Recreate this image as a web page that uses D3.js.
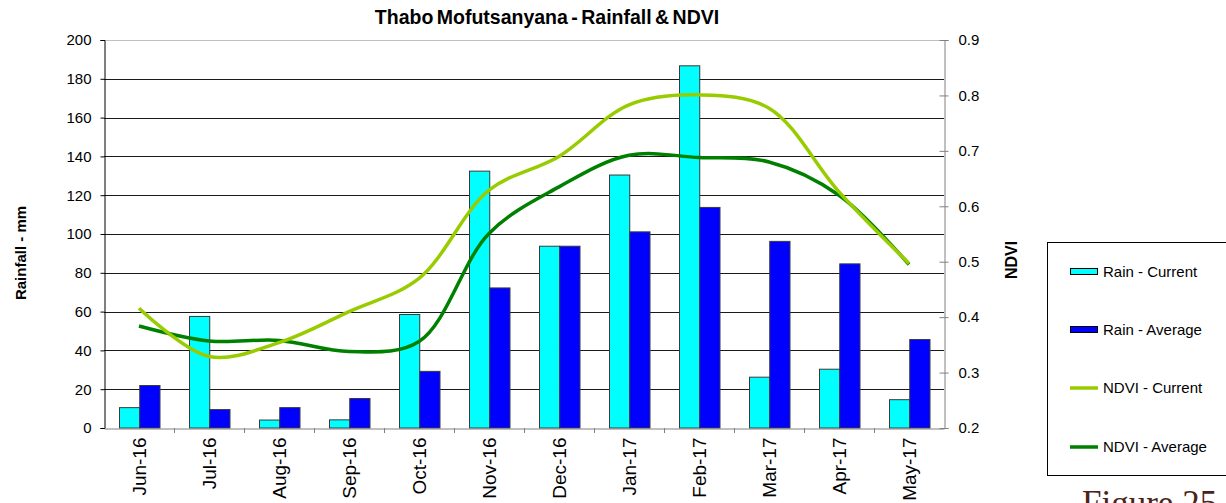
<!DOCTYPE html>
<html>
<head>
<meta charset="utf-8">
<script src="https://cdn.jsdelivr.net/npm/d3@7"></script>
<style>
  body { margin: 0; background: #fff; }
  svg text { font-family: "Liberation Sans", Arial, sans-serif; }
</style>
</head>
<body>
<div id="chart-area"></div>
<script>
// Data
// ****
const months = ["Jun-16", "Jul-16", "Aug-16", "Sep-16", "Oct-16", "Nov-16", "Dec-16", "Jan-17", "Feb-17", "Mar-17", "Apr-17", "May-17"]
const rainCurrent = [10.5, 57.5, 4.1, 4.2, 58.5, 132.4, 93.7, 130.4, 186.7, 26.2, 30.3, 14.6]
const rainAverage = [21.9, 9.5, 10.5, 15.2, 29.2, 72.2, 93.7, 101.1, 113.7, 96.2, 84.6, 45.6]
const ndviCurrent = [0.416, 0.329, 0.354, 0.41, 0.47, 0.629, 0.69, 0.783, 0.801, 0.777, 0.626, 0.497]
const ndviAverage = [0.384, 0.357, 0.358, 0.338, 0.356, 0.551, 0.635, 0.692, 0.688, 0.68, 0.62, 0.495]
const rainTicks = [0, 20, 40, 60, 80, 100, 120, 140, 160, 180, 200]
const ndviTicks = [0.2, 0.3, 0.4, 0.5, 0.6, 0.7, 0.8, 0.9]

// Config
// ******
const width = 1226, height = 503
const plot = {left: 104, right: 944, top: 40, bottom: 428}
const colors = {rainCur: "#00ffff", rainAvg: "#0000ff", ndviCur: "#99cc00", ndviAvg: "#008000"}

const svg = d3.select("#chart-area")
  .append("svg")
    .attr("width", width)
    .attr("height", height)

// Scales
// ******
const x = d3.scaleBand().domain(months).range([plot.left, plot.right])
const xSub = d3.scaleBand().domain(["cur", "avg"]).range([15.5, 56])
const y = d3.scaleLinear().domain([0, 200]).range([plot.bottom, plot.top])
const y2 = d3.scaleLinear().domain([0.2, 0.9]).range([plot.bottom, plot.top])

// Gridlines
svg.append("g")
  .selectAll("line")
  .data(rainTicks.slice(1))
  .enter().append("line")
    .attr("x1", plot.left).attr("x2", plot.right)
    .attr("y1", d => Math.round(y(d)) + 0.5).attr("y2", d => Math.round(y(d)) + 0.5)
    .attr("stroke", d => d === 200 ? "#c0c0c0" : "#1a1a1a")
    .attr("stroke-width", 1)

// Bars
// ****
const barData = months.map((m, i) => [
  {m: m, key: "cur", v: rainCurrent[i]},
  {m: m, key: "avg", v: rainAverage[i]}
])
svg.append("g")
  .selectAll("g")
  .data(barData)
  .enter().append("g")
    .attr("transform", d => "translate(" + x(d[0].m) + ",0)")
  .selectAll("rect")
  .data(d => d)
  .enter().append("rect")
    .attr("x", d => xSub(d.key))
    .attr("y", d => y(d.v))
    .attr("width", xSub.bandwidth())
    .attr("height", d => y(0) - y(d.v))
    .attr("fill", d => d.key === "cur" ? colors.rainCur : colors.rainAvg)
    .attr("stroke", "#3a3a3a")
    .attr("stroke-width", 1)

// Lines
// *****
const line = d3.line()
  .x((d, i) => x(months[i]) + x.bandwidth() / 2)
  .y(d => y2(d))
  .curve(d3.curveCatmullRom.alpha(0.5))

svg.append("path")
  .datum(ndviAverage)
  .attr("d", line)
  .attr("fill", "none")
  .attr("stroke", colors.ndviAvg)
  .attr("stroke-width", 3.5)

svg.append("path")
  .datum(ndviCurrent)
  .attr("d", line)
  .attr("fill", "none")
  .attr("stroke", colors.ndviCur)
  .attr("stroke-width", 3.5)

// Axes
// ****
const leftAxis = d3.axisLeft(y).tickValues(rainTicks).tickSize(4).tickPadding(9)
const gl = svg.append("g")
  .attr("transform", "translate(" + (plot.left + 0.5) + ",0)")
  .call(leftAxis)
gl.selectAll("path, line").attr("stroke", "#000")
gl.selectAll("text").attr("font-size", "15px").attr("fill", "#000").style("font-family", "Liberation Sans, Arial")

const rightAxis = d3.axisRight(y2).tickValues(ndviTicks).tickSize(4).tickPadding(10).tickFormat(d3.format(".1f"))
const gr = svg.append("g")
  .attr("transform", "translate(" + (plot.right + 0.5) + ",0)")
  .call(rightAxis)
gr.selectAll("path, line").attr("stroke", "#808080")
gr.selectAll(".tick line").attr("x1", -5)
gr.selectAll("text").attr("font-size", "15px").attr("fill", "#000").style("font-family", "Liberation Sans, Arial")

const bottomAxis = d3.axisBottom(x).tickSize(0)
const gb = svg.append("g")
  .attr("transform", "translate(0," + (plot.bottom + 0.5) + ")")
  .call(bottomAxis)
gb.select(".domain").attr("stroke", "#808080")
gb.selectAll("text")
  .attr("font-size", "19px")
  .attr("fill", "#000")
  .style("font-family", "Liberation Sans, Arial")
  .attr("text-anchor", "end")
  .attr("transform", "rotate(-90)")
  .attr("x", -9)
  .attr("y", 0)
  .attr("dy", "0.35em")
// category boundary ticks
svg.append("g")
  .selectAll("line")
  .data(months.slice(1))
  .enter().append("line")
    .attr("x1", d => Math.round(x(d)) + 0.5).attr("x2", d => Math.round(x(d)) + 0.5)
    .attr("y1", plot.bottom).attr("y2", plot.bottom + 5)
    .attr("stroke", "#808080")

// Labels
// ******
svg.append("text")
  .attr("x", 547).attr("y", 24)
  .attr("text-anchor", "middle")
  .attr("font-size", "19.5px")
  .attr("font-weight", "bold")
  .attr("word-spacing", "-2px")
  .text("Thabo Mofutsanyana - Rainfall & NDVI")

svg.append("text")
  .attr("transform", "translate(26,253) rotate(-90)")
  .attr("text-anchor", "middle")
  .attr("font-size", "15px")
  .attr("font-weight", "bold")
  .text("Rainfall - mm")

svg.append("text")
  .attr("transform", "translate(1017,260) rotate(-90)")
  .attr("text-anchor", "middle")
  .attr("font-size", "16px")
  .attr("font-weight", "bold")
  .text("NDVI")

// Legend
// ******
const legendItems = [
  {label: "Rain - Current", color: colors.rainCur, type: "bar"},
  {label: "Rain - Average", color: colors.rainAvg, type: "bar"},
  {label: "NDVI - Current", color: colors.ndviCur, type: "line"},
  {label: "NDVI - Average", color: colors.ndviAvg, type: "line"}
]
svg.append("rect")
  .attr("x", 1047.5).attr("y", 242.5)
  .attr("width", 200).attr("height", 233)
  .attr("fill", "none")
  .attr("stroke", "#000")

const legend = svg.append("g")
  .selectAll("g")
  .data(legendItems)
  .enter().append("g")
    .attr("transform", (d, i) => "translate(1070," + [272, 330, 388, 447][i] + ")")
legend.filter(d => d.type === "bar").append("rect")
  .attr("x", 0.5).attr("y", -3.5)
  .attr("width", 27).attr("height", 6)
  .attr("fill", d => d.color)
  .attr("stroke", "#000")
legend.filter(d => d.type === "line").append("line")
  .attr("x1", 0).attr("x2", 28)
  .attr("y1", 0).attr("y2", 0)
  .attr("stroke", d => d.color)
  .attr("stroke-width", 3.5)
legend.append("text")
  .attr("x", 33).attr("dy", "0.35em")
  .attr("font-size", "15px")
  .text(d => d.label)

// Caption (cut off at the bottom edge)
svg.append("text")
  .attr("x", 1082).attr("y", 515)
  .attr("font-size", "35px")
  .style("font-family", "Liberation Serif, serif")
  .attr("fill", "#4a2418")
  .text("Figure 25")
</script>
</body>
</html>
